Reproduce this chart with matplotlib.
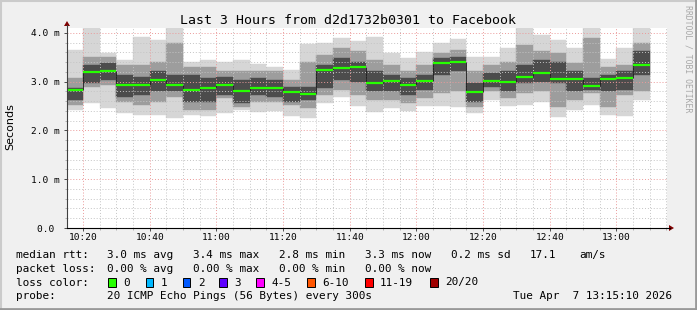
import matplotlib.pyplot as plt
from matplotlib.patches import Rectangle, Polygon
from matplotlib.lines import Line2D

W, H = 697, 310

# 5 minute steps (start time of each step)
times = ["10:15", "10:20", "10:25", "10:30", "10:35", "10:40", "10:45", "10:50",
         "10:55", "11:00", "11:05", "11:10", "11:15", "11:20", "11:25", "11:30",
         "11:35", "11:40", "11:45", "11:50", "11:55", "12:00", "12:05", "12:10",
         "12:15", "12:20", "12:25", "12:30", "12:35", "12:40", "12:45", "12:50",
         "12:55", "13:00", "13:05"]

# median rtt (ms)
median = [2.83, 3.19, 3.21, 2.94, 2.94, 3.04, 2.94, 2.82, 2.88, 2.94, 2.80, 2.88,
          2.88, 2.78, 2.75, 3.23, 3.28, 3.31, 2.98, 3.02, 2.94, 3.02, 3.39, 3.41,
          2.78, 3.02, 3.00, 3.10, 3.17, 3.06, 3.06, 2.92, 3.06, 3.08, 3.35]

# smoke: full range of the 20 pings
outer_lo = [2.42, 2.57, 2.46, 2.35, 2.32, 2.32, 2.26, 2.32, 2.30, 2.35, 2.42, 2.38,
            2.39, 2.30, 2.25, 2.56, 2.69, 2.50, 2.37, 2.46, 2.40, 2.50, 2.50, 2.49,
            2.35, 2.63, 2.50, 2.52, 2.59, 2.28, 2.42, 2.52, 2.32, 2.30, 2.63]
outer_hi = [3.65, 4.10, 3.58, 3.45, 3.92, 3.86, 4.10, 3.41, 3.45, 3.41, 3.45, 3.36,
            3.31, 3.24, 3.77, 3.79, 3.90, 3.84, 3.92, 3.58, 3.48, 3.60, 3.80, 3.88,
            3.51, 3.51, 3.69, 4.10, 3.96, 3.86, 3.69, 4.10, 3.46, 3.70, 4.10]
# smoke: middle pings
mid_lo = [2.52, 2.90, 2.93, 2.59, 2.52, 2.59, 2.69, 2.42, 2.42, 2.66, 2.49, 2.59,
          2.59, 2.52, 2.46, 2.73, 2.83, 2.73, 2.63, 2.63, 2.56, 2.66, 2.76, 2.80,
          2.49, 2.80, 2.66, 2.76, 2.80, 2.49, 2.63, 2.76, 2.49, 2.73, 2.80]
mid_hi = [3.07, 3.51, 3.51, 3.34, 3.34, 3.41, 3.79, 3.31, 3.31, 3.21, 3.21, 3.21,
          3.21, 3.04, 3.41, 3.55, 3.69, 3.62, 3.45, 3.34, 3.21, 3.34, 3.58, 3.65,
          3.21, 3.34, 3.41, 3.75, 3.62, 3.58, 3.38, 3.89, 3.31, 3.34, 3.79]
# smoke: pings closest to the median
core_lo = [2.62, 2.97, 3.04, 2.69, 2.73, 2.80, 2.80, 2.59, 2.59, 2.73, 2.56, 2.73,
           2.69, 2.59, 2.63, 2.87, 3.04, 3.00, 2.80, 2.80, 2.73, 2.83, 3.14, 3.21,
           2.59, 2.90, 2.80, 2.97, 3.00, 2.97, 2.80, 2.83, 2.80, 2.83, 3.14]
core_hi = [2.86, 3.34, 3.38, 3.14, 3.10, 3.21, 3.14, 3.14, 3.07, 3.10, 3.04, 3.07,
           3.04, 2.90, 2.90, 3.34, 3.48, 3.41, 3.21, 3.14, 3.07, 3.14, 3.48, 3.51,
           2.97, 3.17, 3.21, 3.34, 3.45, 3.41, 3.21, 3.07, 3.14, 3.21, 3.62]

tick_times = ["10:20", "10:40", "11:00", "11:20", "11:40", "12:00", "12:20", "12:40", "13:00"]

loss_labels = ["0", "1", "2", "3", "4-5", "6-10", "11-19", "20/20"]
loss_colors = ["#26ff00", "#00b8ff", "#0059ff", "#5e00ff", "#ff00ff", "#ff5500", "#ff0000", "#a00000"]


def to_min(t):
    h, m = t.split(":")
    return int(h) * 60 + int(m)


def fx(px):
    return px / W


def fy(py):
    return 1 - py / H


starts = [to_min(t) for t in times]
step = 5

fig = plt.figure(figsize=(W / 100, H / 100), dpi=100)
fig.patch.set_facecolor("#f0f0f0")

ax = fig.add_axes([fx(67), fy(228), 600 / W, 200 / H])
ax.set_facecolor("white")

# smoke
layers = [(outer_lo, outer_hi, "#d6d6d6"), (mid_lo, mid_hi, "#9d9d9d"), (core_lo, core_hi, "#4c4c4c")]
for lo, hi, c in layers:
    ax.bar(starts, [h - l for l, h in zip(lo, hi)], bottom=lo, width=step, align="edge",
           color=c, edgecolor=c, linewidth=0.3, zorder=1)

# median
ax.vlines(starts[1:], median[:-1], median[1:], color="#1a1a1a", lw=0.6, zorder=3.5)
ax.hlines(median, starts, [s + step for s in starts], color="#26ff00", lw=1.6, zorder=4)

t_end = to_min("13:15") + 10 / 60
ax.set_xlim(t_end - 180, t_end)
ax.set_ylim(0, 4.1)

ax.set_xticks([to_min(t) for t in tick_times])
ax.set_xticklabels(tick_times)
ax.set_xticks(range(to_min("10:20"), to_min("13:15") + 1, 5), minor=True)
ax.set_yticks([0, 1, 2, 3, 4])
ax.set_yticklabels(["0.0 ", "1.0 m", "2.0 m", "3.0 m", "4.0 m"])
ax.set_yticks([v / 10 for v in range(0, 41, 2)], minor=True)

for lab in ax.get_xticklabels() + ax.get_yticklabels():
    lab.set_family("DejaVu Sans Mono")
    lab.set_fontsize(6.8)

ax.tick_params(axis="both", which="major", length=2, width=0.6, color="#333333")
ax.tick_params(axis="x", which="major", pad=1.8)
ax.tick_params(axis="y", which="major", pad=3)
ax.tick_params(axis="both", which="minor", length=1.5, width=0.5, color="#999999")

ax.set_axisbelow(False)
ax.grid(which="minor", color="#c4c4c4", linestyle=(0, (1, 2)), lw=0.7)
ax.grid(which="major", color="#eb9a9a", linestyle=(0, (1, 2)), lw=0.7)
for s in ax.spines.values():
    s.set_visible(False)

# axes with arrows
fig.add_artist(Line2D([fx(67), fx(67)], [fy(228), fy(25)], color="#404040", lw=0.8))
fig.add_artist(Line2D([fx(67), fx(670)], [fy(228), fy(228)], color="black", lw=0.8))
fig.add_artist(Polygon([[fx(64), fy(26)], [fx(70), fy(26)], [fx(67), fy(21)]], closed=True,
                       color="#800000", lw=0))
fig.add_artist(Polygon([[fx(669), fy(225)], [fx(669), fy(231)], [fx(674), fy(228)]], closed=True,
                       color="#800000", lw=0))

fig.text(fx(347.5), fy(24), "Last 3 Hours from d2d1732b0301 to Facebook",
         family="DejaVu Sans Mono", fontsize=9.5, ha="center", va="baseline")
fig.text(fx(10.5), fy(127), "Seconds", family="DejaVu Sans", fontsize=8,
         rotation=90, ha="center", va="center")
fig.text(fx(688), fy(59), "RRDTOOL / TOBI OETIKER", family="DejaVu Sans Mono",
         fontsize=5.9, rotation=270, ha="center", va="center", color="#a8a8a8")

# legend
mono = dict(family="DejaVu Sans Mono", fontsize=7.9, va="baseline")
rows = [
    (258, [(16, "median rtt:"), (107.3, "3.0 ms avg"), (193.3, "3.4 ms max"), (279.3, "2.8 ms min"),
           (365, "3.3 ms now"), (451, "0.2 ms sd"), (530, "17.1"), (579.3, "am/s")]),
    (271.7, [(16, "packet loss:"), (107.3, "0.00 % avg"), (193.3, "0.00 % max"),
             (279.3, "0.00 % min"), (365, "0.00 % now")]),
    (285.5, [(16, "loss color:")]),
    (299, [(16, "probe:"), (107.3, "20 ICMP Echo Pings (56 Bytes) every 300s"),
           (513.3, "Tue Apr  7 13:15:10 2026")]),
]
for base, items in rows:
    for x, s in items:
        fig.text(fx(x), fy(base), s, **mono)

box_x = [108.3, 145.7, 182.7, 219.3, 256, 307.3, 365, 430]
for bx, lab, c in zip(box_x, loss_labels, loss_colors):
    fig.add_artist(Rectangle((fx(bx), fy(286.5)), 7.5 / W, 9 / H, facecolor=c,
                             edgecolor="black", lw=0.7))
    fig.text(fx(bx + 15), fy(285.5), lab, **mono)

# frame shading
fig.add_artist(Line2D([0, 1], [fy(0.5), fy(0.5)], color="#cbcbcb", lw=1.5))
fig.add_artist(Line2D([fx(0.5), fx(0.5)], [0, 1], color="#cbcbcb", lw=1.5))
fig.add_artist(Line2D([0, 1], [fy(309), fy(309)], color="#999999", lw=2))
fig.add_artist(Line2D([fx(696), fx(696)], [0, 1], color="#999999", lw=2))

fig.savefig("out.png", dpi=100, facecolor=fig.get_facecolor())
